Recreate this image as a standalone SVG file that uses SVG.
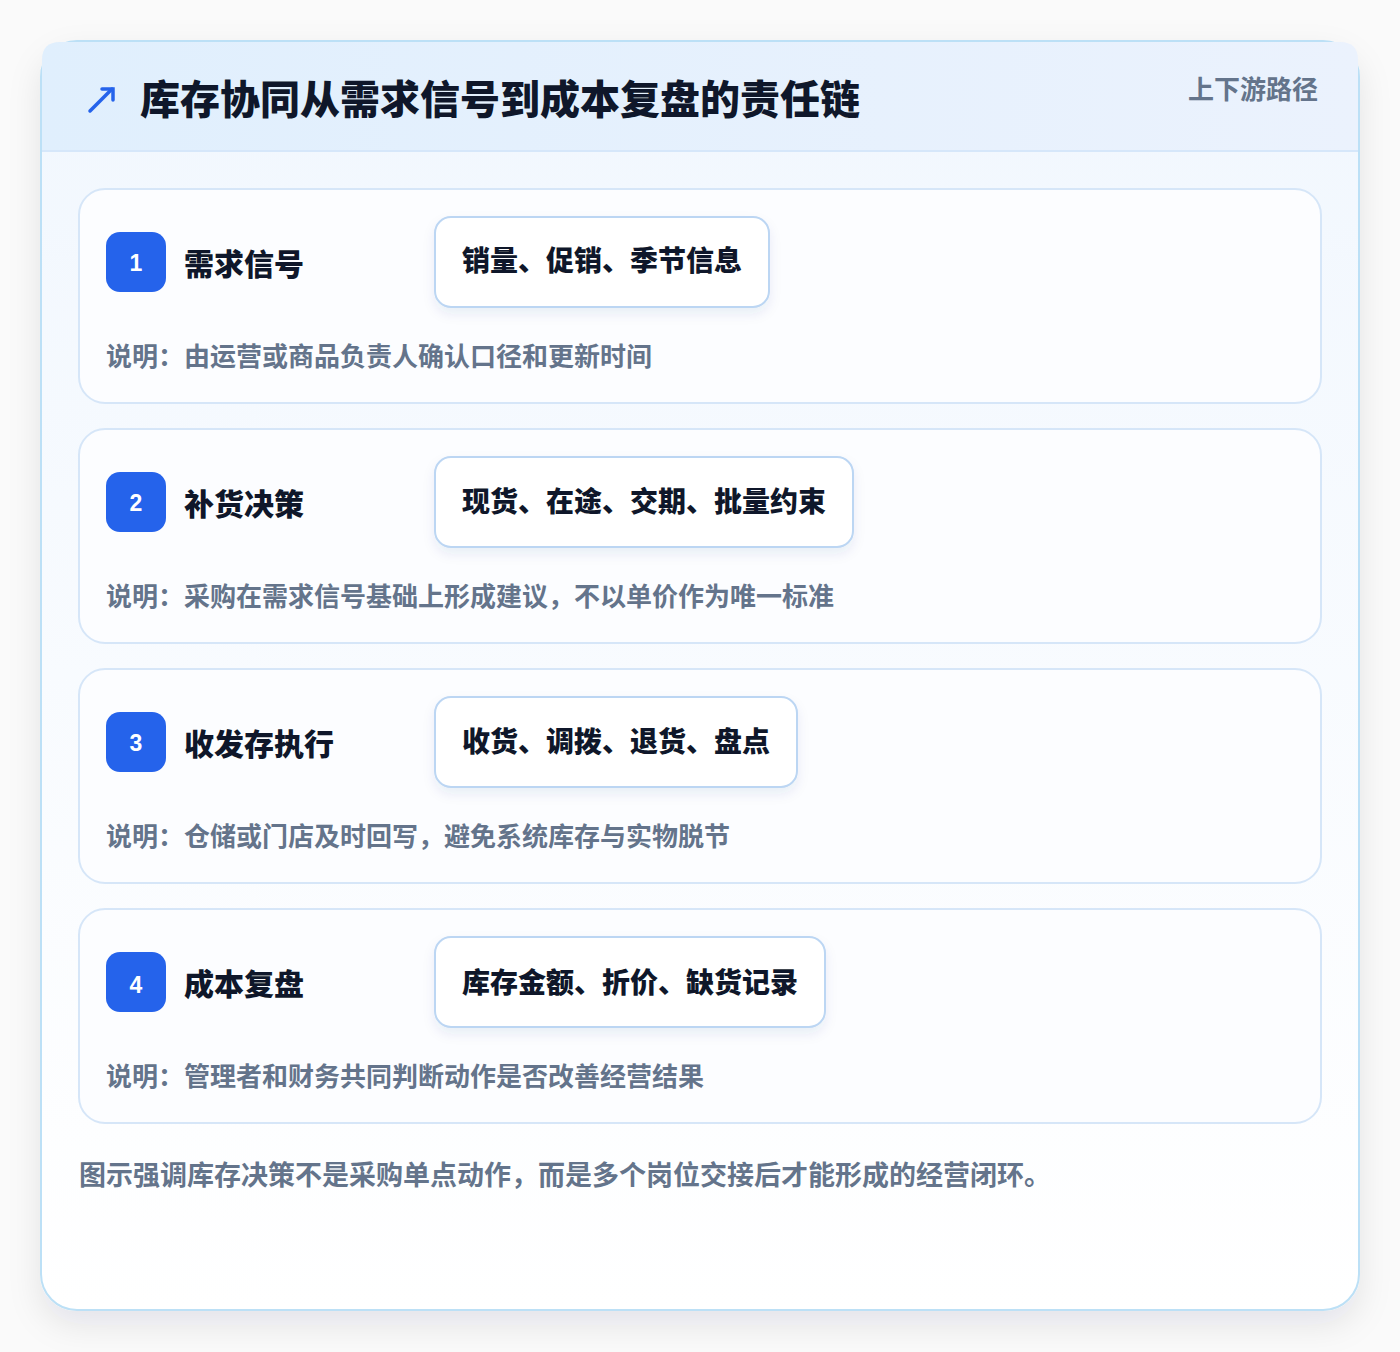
<svg xmlns="http://www.w3.org/2000/svg" width="1400" height="1352" viewBox="0 0 1400 1352">
<defs>
<linearGradient id="hdr" x1="0" y1="0" x2="1" y2="0"><stop offset="0" stop-color="#e0effd"/><stop offset="1" stop-color="#ebf2fd"/></linearGradient>
<linearGradient id="body" x1="0" y1="0" x2="0" y2="1"><stop offset="0" stop-color="#f1f7fe"/><stop offset="1" stop-color="#ffffff"/></linearGradient>
<filter id="sh" x="-10%" y="-10%" width="120%" height="120%"><feDropShadow dx="0" dy="14" stdDeviation="16" flood-color="#0f172a" flood-opacity="0.09"/></filter>
<filter id="tsh" x="-10%" y="-20%" width="120%" height="150%"><feDropShadow dx="0" dy="6" stdDeviation="6" flood-color="#1e3a8a" flood-opacity="0.08"/></filter>
<style>
.card{fill:#fcfdff;stroke:#d6e6f8;stroke-width:2}
.badge{fill:#2563eb}
.num{font-family:"Liberation Sans","Noto Sans CJK SC",sans-serif;font-weight:700;font-size:23px;fill:#ffffff;text-anchor:middle}
.ttl{font-family:"Noto Sans CJK SC",sans-serif;font-weight:900;font-size:30px;fill:#0f172a}
.tag{fill:#ffffff;stroke:#bcd6f3;stroke-width:2}
.tagt{font-family:"Noto Sans CJK SC",sans-serif;font-weight:900;font-size:28px;fill:#0f172a}
.desc{font-family:"Noto Sans CJK SC",sans-serif;font-weight:700;font-size:26px;fill:#64748b}
</style>
</defs>
<rect width="1400" height="1352" fill="#fafafa"/>
<g id="frame">
<rect x="41" y="41" width="1318" height="1269" rx="36" fill="url(#body)" stroke="#bce0f6" stroke-width="2" filter="url(#sh)"/>
<path d="M42 151 V60 Q42 42 60 42 H1340 Q1358 42 1358 60 V151 Z" fill="url(#hdr)"/>
<line x1="42" y1="151" x2="1358" y2="151" stroke="#d6e7fa" stroke-width="2"/>
<g id="icon" stroke="#2563eb" stroke-width="3.5" fill="none" stroke-linecap="round"><line x1="90" y1="111" x2="112" y2="89"/><path d="M102 89 H113 V100" fill="none"/></g>
<text x="140" y="114" font-family="Noto Sans CJK SC,sans-serif" font-weight="900" font-size="40" fill="#0f172a">库存协同从需求信号到成本复盘的责任链</text>
<text x="1318" y="99" text-anchor="end" font-family="Noto Sans CJK SC,sans-serif" font-weight="700" font-size="26" fill="#64748b">上下游路径</text>
</g>
<g id="step1">
<rect class="card" x="79" y="189" width="1242" height="214" rx="26"/>
<rect class="badge" x="106" y="232" width="60" height="60" rx="14"/>
<text class="num" x="136" y="271">1</text>
<text class="ttl" x="184" y="275">需求信号</text>
<rect class="tag" x="435" y="217" width="334" height="90" rx="16" filter="url(#tsh)"/>
<text class="tagt" x="462" y="271">销量、促销、季节信息</text>
<text class="desc" x="106" y="366">说明：由运营或商品负责人确认口径和更新时间</text>
</g>
<g id="step2">
<rect class="card" x="79" y="429" width="1242" height="214" rx="26"/>
<rect class="badge" x="106" y="472" width="60" height="60" rx="14"/>
<text class="num" x="136" y="511">2</text>
<text class="ttl" x="184" y="515">补货决策</text>
<rect class="tag" x="435" y="457" width="418" height="90" rx="16" filter="url(#tsh)"/>
<text class="tagt" x="462" y="512">现货、在途、交期、批量约束</text>
<text class="desc" x="106" y="606">说明：采购在需求信号基础上形成建议，不以单价作为唯一标准</text>
</g>
<g id="step3">
<rect class="card" x="79" y="669" width="1242" height="214" rx="26"/>
<rect class="badge" x="106" y="712" width="60" height="60" rx="14"/>
<text class="num" x="136" y="751">3</text>
<text class="ttl" x="184" y="755">收发存执行</text>
<rect class="tag" x="435" y="697" width="362" height="90" rx="16" filter="url(#tsh)"/>
<text class="tagt" x="462" y="752">收货、调拨、退货、盘点</text>
<text class="desc" x="106" y="846">说明：仓储或门店及时回写，避免系统库存与实物脱节</text>
</g>
<g id="step4">
<rect class="card" x="79" y="909" width="1242" height="214" rx="26"/>
<rect class="badge" x="106" y="952" width="60" height="60" rx="14"/>
<text class="num" x="136" y="993">4</text>
<text class="ttl" x="184" y="995">成本复盘</text>
<rect class="tag" x="435" y="937" width="390" height="90" rx="16" filter="url(#tsh)"/>
<text class="tagt" x="462" y="993">库存金额、折价、缺货记录</text>
<text class="desc" x="106" y="1086">说明：管理者和财务共同判断动作是否改善经营结果</text>
</g>
<g id="connectors"></g>
<text x="79" y="1185" font-family="Noto Sans CJK SC,sans-serif" font-weight="700" font-size="27" fill="#64748b">图示强调库存决策不是采购单点动作，而是多个岗位交接后才能形成的经营闭环。</text>
</svg>
